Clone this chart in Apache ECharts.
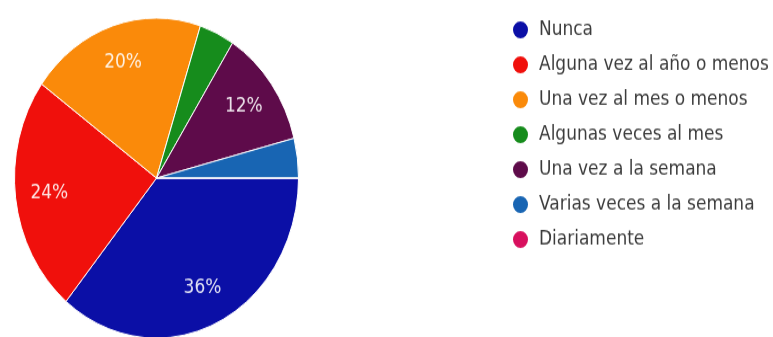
<!DOCTYPE html>
<html>
<head>
<meta charset="utf-8">
<script src="https://cdn.jsdelivr.net/npm/echarts@6/dist/echarts.min.js"></script>
<style>
  html, body { margin: 0; padding: 0; background: #ffffff; width: 773px; height: 337px; overflow: hidden; }
  #frame { width: 773px; height: 337px; position: relative; overflow: hidden; }
  /* the chart is drawn on a slightly shorter canvas and stretched vertically */
  #chart { position: absolute; left: 0; top: 0; width: 773px; height: 299px; transform: scaleY(1.127); transform-origin: 0 0; }
</style>
</head>
<body>
<div id="frame"><div id="chart"></div></div>
<script>
// Frequency answers (respondent counts)
const categories = [
  'Nunca',
  'Alguna vez al año o menos',
  'Una vez al mes o menos',
  'Algunas veces al mes',
  'Una vez a la semana',
  'Varias veces a la semana',
  'Diariamente'
];
const counts = [9, 6, 5, 1, 3, 1, 0];
const colors = ['#0b0fa6', '#f0100c', '#fa8a0a', '#168c1c', '#5e0b4a', '#1865b3', '#d8105e'];

const pieData = categories.map((name, i) => ({ name: name, value: counts[i] }));
const font = 'DejaVu Sans';

const chart = echarts.init(document.getElementById('chart'));
chart.setOption({
  animation: false,
  color: colors,
  legend: {
    orient: 'vertical',
    left: 511,
    top: 16.5,
    padding: 0,
    icon: 'circle',
    itemWidth: 17,
    itemHeight: 17,
    itemGap: 11,
    selectedMode: false,
    data: categories,
    textStyle: {
      fontFamily: font,
      fontSize: 17,
      lineHeight: 20,
      color: '#3c3c3c',
      padding: [0, 0, 0, 5]
    }
  },
  series: [
    {
      type: 'pie',
      center: [156.5, 158],
      radius: 142,
      startAngle: 0,
      clockwise: true,
      silent: true,
      data: pieData,
      itemStyle: { borderColor: '#ffffff', borderWidth: 1 },
      label: { show: false },
      labelLine: { show: false }
    },
    {
      // percentage labels placed around 74% of the radius
      type: 'pie',
      center: [156.5, 158],
      radius: [68, 142],
      startAngle: 0,
      clockwise: true,
      silent: true,
      percentPrecision: 0,
      data: pieData,
      itemStyle: { color: 'rgba(0,0,0,0)' },
      label: {
        show: true,
        position: 'inside',
        fontFamily: font,
        fontSize: 17,
        color: 'rgba(255,255,255,0.88)',
        formatter: p => (p.percent >= 8 ? p.percent + '%' : '')
      },
      labelLine: { show: false }
    }
  ]
});
</script>
</body>
</html>
